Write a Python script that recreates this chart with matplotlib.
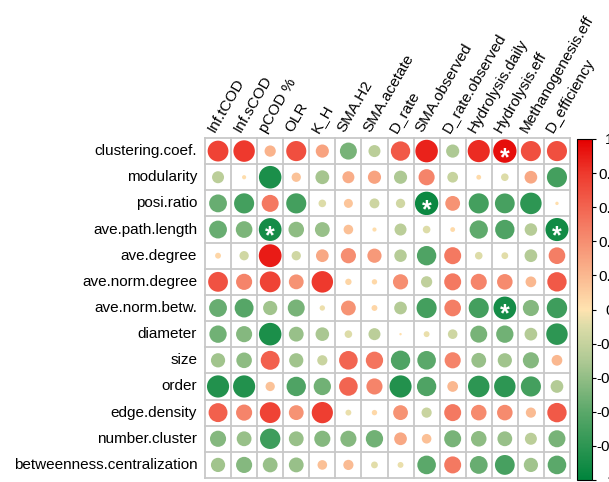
import numpy as np
import matplotlib.pyplot as plt
from matplotlib.colors import LinearSegmentedColormap, Normalize
from matplotlib.cm import ScalarMappable
from matplotlib.patches import Circle

plt.rcParams['font.family'] = ['Liberation Sans', 'DejaVu Sans']

# network properties (rows) vs process variables (columns)
net_props = ["clustering.coef.", "modularity", "posi.ratio", "ave.path.length",
             "ave.degree", "ave.norm.degree", "ave.norm.betw.", "diameter", "size",
             "order", "edge.density", "number.cluster", "betweenness.centralization"]
process_vars = ["Inf.tCOD", "Inf.sCOD", "pCOD %", "OLR", "K_H", "SMA.H2", "SMA.acetate",
                "D_rate", "SMA.observed", "D_rate.observed", "Hydrolysis.daily",
                "Hydrolysis.eff", "Methanogenesis.eff", "D_efficiency"]

clustering_coef = [0.75, 0.80, 0.22, 0.70, 0.30, -0.50, -0.25, 0.65, 0.88, -0.30, 0.85, 0.95, 0.70, 0.70]
modularity = [-0.25, 0.03, -0.88, 0.15, -0.33, 0.25, 0.30, -0.30, 0.45, -0.20, 0.04, -0.10, 0.28, -0.70]
posi_ratio = [-0.55, -0.70, 0.50, -0.70, -0.10, 0.14, -0.17, -0.15, -0.95, 0.38, -0.70, -0.68, -0.80, 0.02]
ave_path_length = [-0.55, -0.48, -0.90, -0.42, -0.38, 0.16, 0.03, -0.25, -0.10, 0.04, -0.58, -0.65, -0.27, -0.92]
ave_degree = [0.06, -0.15, 0.90, -0.15, 0.28, 0.40, 0.35, -0.27, -0.65, 0.50, -0.10, -0.08, -0.28, 0.48]
ave_norm_degree = [0.68, 0.45, 0.75, 0.38, 0.80, 0.07, 0.05, 0.40, -0.22, 0.50, 0.45, 0.42, 0.20, 0.65]
ave_norm_betw = [-0.55, -0.62, -0.35, -0.50, -0.05, 0.38, 0.06, -0.28, -0.70, 0.48, -0.70, -0.90, -0.45, -0.72]
diameter = [-0.52, -0.45, -0.88, -0.38, -0.32, -0.10, -0.25, 0.01, -0.06, -0.16, -0.50, -0.52, -0.28, -0.80]
size = [-0.35, -0.42, 0.62, -0.35, -0.18, 0.60, 0.52, -0.65, -0.60, 0.45, -0.38, -0.35, -0.45, 0.20]
order = [-0.85, -0.85, 0.15, -0.65, -0.52, 0.60, 0.45, -0.85, -0.65, 0.20, -0.80, -0.80, -0.70, -0.28]
edge_density = [0.62, 0.45, 0.75, 0.38, 0.78, -0.06, 0.05, 0.38, -0.18, 0.50, 0.42, 0.42, 0.18, 0.65]
number_cluster = [-0.45, -0.38, -0.72, -0.38, -0.45, -0.45, -0.52, 0.28, 0.16, -0.50, -0.42, -0.38, -0.25, -0.50]
betw_centralization = [-0.35, -0.45, -0.38, -0.38, 0.16, 0.18, -0.08, -0.06, -0.60, 0.50, -0.55, -0.68, -0.35, -0.60]

corr = np.array([clustering_coef, modularity, posi_ratio, ave_path_length, ave_degree,
                 ave_norm_degree, ave_norm_betw, diameter, size, order, edge_density,
                 number_cluster, betw_centralization])

# significant pairs
signif = [("clustering.coef.", "Hydrolysis.eff"), ("posi.ratio", "SMA.observed"),
          ("ave.path.length", "pCOD %"), ("ave.path.length", "D_efficiency"),
          ("ave.norm.betw.", "Hydrolysis.eff")]

cmap = LinearSegmentedColormap.from_list("gr", [
    (0.00, "#00843C"), (0.20, "#5BA86A"), (0.35, "#AFC994"), (0.45, "#DCDCA8"),
    (0.50, "#FFE3B0"), (0.60, "#FAB890"), (0.75, "#F47A62"), (0.90, "#EE3A2E"),
    (1.00, "#E40000")])
norm = Normalize(-1, 1)

fig = plt.figure(figsize=(6.09, 4.82), dpi=100)
ax = fig.add_axes([205/609, 4/482, 365/609, 340/482])
nr, nc = corr.shape
ax.set_xlim(0, nc)
ax.set_ylim(nr, 0)
ax.axis('off')

for i in range(nr):
    for j in range(nc):
        r = corr[i, j]
        ax.add_patch(Circle((j + 0.5, i + 0.5), 0.46 * np.sqrt(abs(r)),
                            color=cmap(norm(r)), lw=0))

for k in range(nc + 1):
    ax.plot([k, k], [0, nr], color='#C8C8C8', lw=1.3, clip_on=False)
for k in range(nr + 1):
    ax.plot([0, nc], [k, k], color='#C8C8C8', lw=1.3, clip_on=False)

for rname, cname in signif:
    i = net_props.index(rname)
    j = process_vars.index(cname)
    ax.text(j + 0.5, i + 0.76, "*", color='white', fontsize=18, fontweight='bold',
            ha='center', va='center')

for i, name in enumerate(net_props):
    ax.text(-0.3, i + 0.5, name, ha='right', va='center', fontsize=11)
for j, name in enumerate(process_vars):
    ax.text(j + 0.45, -0.12, name, ha='left', va='bottom', fontsize=11,
            rotation=60, rotation_mode='anchor')

cax = fig.add_axes([577/609, 2/482, 15/609, 341/482])
cb = fig.colorbar(ScalarMappable(norm=norm, cmap=cmap), cax=cax)
ticks = np.round(np.arange(-1, 1.01, 0.2), 1)
cb.set_ticks(ticks)
cb.set_ticklabels(["%g" % t if t != 0 else "0" for t in ticks])
cb.ax.tick_params(labelsize=11, length=3, pad=9.5)
for lab in cb.ax.get_yticklabels():
    lab.set_horizontalalignment('center')

fig.savefig("out.png", dpi=100)
